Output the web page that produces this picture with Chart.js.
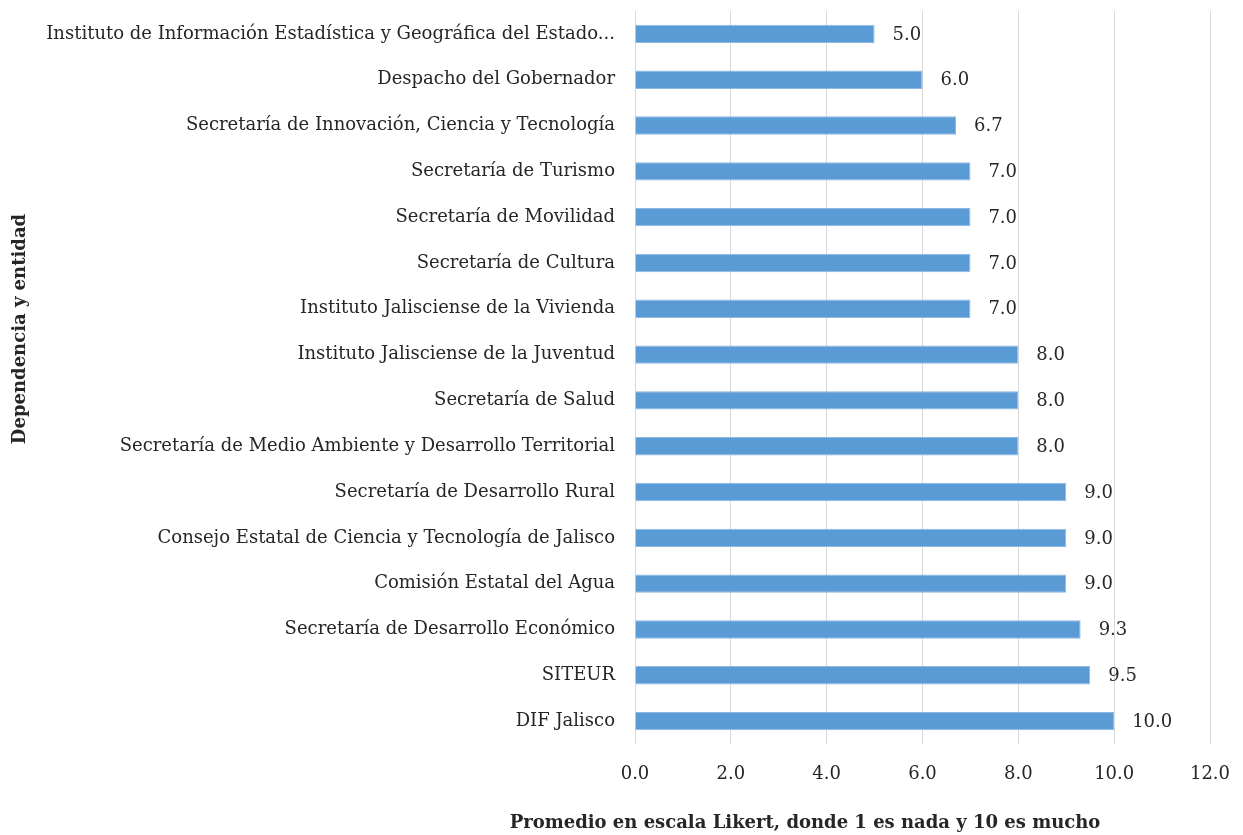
<!DOCTYPE html>
<html>
<head>
<meta charset="utf-8">
<script src="https://cdn.jsdelivr.net/npm/chart.js@4"></script>
<style>
  html, body { margin: 0; padding: 0; background: #fff; }
  #wrap { width: 1243px; height: 835px; }
</style>
</head>
<body>
<div id="wrap"><canvas id="chart" width="1243" height="835"></canvas></div>
<script>
const categories = [
  'Instituto de Información Estadística y Geográfica del Estado...',
  'Despacho del Gobernador',
  'Secretaría de Innovación, Ciencia y Tecnología',
  'Secretaría de Turismo',
  'Secretaría de Movilidad',
  'Secretaría de Cultura',
  'Instituto Jalisciense de la Vivienda',
  'Instituto Jalisciense de la Juventud',
  'Secretaría de Salud',
  'Secretaría de Medio Ambiente y Desarrollo Territorial',
  'Secretaría de Desarrollo Rural',
  'Consejo Estatal de Ciencia y Tecnología de Jalisco',
  'Comisión Estatal del Agua',
  'Secretaría de Desarrollo Económico',
  'SITEUR',
  'DIF Jalisco'
];
const promedio = [5.0, 6.0, 6.7, 7.0, 7.0, 7.0, 7.0, 8.0, 8.0, 8.0, 9.0, 9.0, 9.0, 9.3, 9.5, 10.0];
const xTitle = 'Promedio en escala Likert, donde 1 es nada y 10 es mucho';
const yTitle = 'Dependencia y entidad';

const FONT = '"DejaVu Serif", "Liberation Serif", serif';
const TEXT = '#262626';

// value labels to the right of each bar
const valueLabels = {
  id: 'valueLabels',
  afterDatasetsDraw(chart) {
    const ctx = chart.ctx;
    const meta = chart.getDatasetMeta(0);
    ctx.save();
    ctx.font = '18px ' + FONT;
    ctx.fillStyle = TEXT;
    ctx.textAlign = 'left';
    ctx.textBaseline = 'middle';
    meta.data.forEach((bar, i) => {
      ctx.fillText(promedio[i].toFixed(1), bar.x + 18, bar.y + 1);
    });
    ctx.restore();
  }
};

// axis titles, placed like the original (off-centre from the plot)
const axisTitles = {
  id: 'axisTitles',
  afterDraw(chart) {
    const ctx = chart.ctx;
    const area = chart.chartArea;
    ctx.save();
    ctx.font = 'bold 18px ' + FONT;
    ctx.fillStyle = TEXT;
    ctx.textAlign = 'center';
    ctx.textBaseline = 'middle';
    ctx.fillText(xTitle, area.left + 170, chart.height - 12);
    ctx.translate(20, area.top + 318);
    ctx.rotate(-Math.PI / 2);
    ctx.fillText(yTitle, 0, 0);
    ctx.restore();
  }
};

new Chart(document.getElementById('chart'), {
  type: 'bar',
  data: {
    labels: categories,
    datasets: [{
      data: promedio,
      backgroundColor: '#5B9BD5',
      borderColor: '#8DB9E3',
      borderWidth: 1,
      barPercentage: 0.4,
      categoryPercentage: 1.0
    }]
  },
  options: {
    indexAxis: 'y',
    responsive: false,
    animation: false,
    layout: { padding: { left: 10, right: 33, top: 11, bottom: 0 } },
    plugins: {
      legend: { display: false },
      tooltip: { enabled: false }
    },
    scales: {
      x: {
        min: 0,
        max: 12,
        ticks: {
          stepSize: 2,
          padding: 20,
          color: TEXT,
          font: { family: FONT, size: 18 },
          callback: v => Number(v).toFixed(1)
        },
        grid: { color: '#D9D9D9', drawTicks: false },
        border: { display: false },
        afterFit: s => { s.height = 91; s.paddingLeft = 0; s.paddingRight = 0; }
      },
      y: {
        ticks: {
          padding: 20,
          color: TEXT,
          font: { family: FONT, size: 18 },
          autoSkip: false
        },
        grid: { display: false, drawTicks: false },
        border: { display: false },
        afterFit: s => { s.width = 625; s.paddingTop = 0; s.paddingBottom = 0; }
      }
    }
  },
  plugins: [valueLabels, axisTitles]
});
</script>
</body>
</html>
